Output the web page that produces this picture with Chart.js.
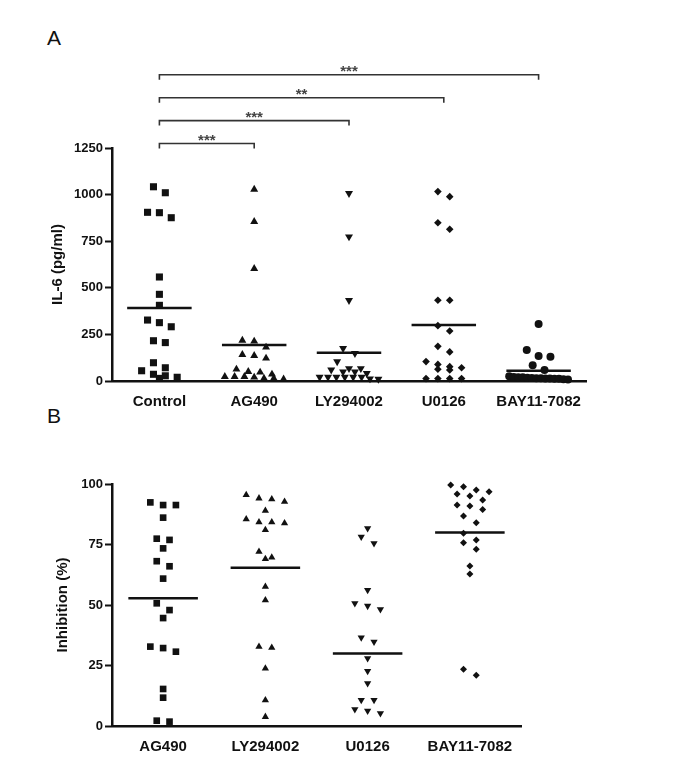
<!DOCTYPE html>
<html>
<head>
<meta charset="utf-8">
<script src="https://cdn.jsdelivr.net/npm/chart.js@4.4.0/dist/chart.umd.min.js"></script>
<style>
  body { margin: 0; background: #fff; }
  #wrap { position: relative; width: 685px; height: 766px; }
  .panel { position: absolute; left: 0; }
  .tag { position: absolute; left: 47px; font: 21px/1 "Liberation Sans", Arial, sans-serif; color: #111; }
</style>
</head>
<body>
<div id="wrap">
  <div class="tag" style="top:27px">A</div>
  <div class="tag" style="top:405px">B</div>
  <canvas id="chartA" class="panel" style="top:0" width="685" height="410"></canvas>
  <canvas id="chartB" class="panel" style="top:410px" width="685" height="356"></canvas>
</div>
<script>
// Panel A: IL-6 (pg/ml) per treatment
const groupsA = ['Control', 'AG490', 'LY294002', 'U0126', 'BAY11-7082'];
const controlA = [1042, 1010, 905, 903, 876, 558, 465, 406, 327, 313, 291, 216, 206, 98, 71, 55, 36, 28, 20, 14];
const ag490A = [1028, 855, 603, 218, 213, 181, 141, 136, 122, 63, 50, 47, 36, 23, 23, 23, 20, 14, 14, 10];
const ly294002A = [1007, 774, 433, 175, 148, 104, 67, 67, 60, 50, 50, 41, 21, 21, 21, 21, 21, 21, 12, 10];
const u0126A = [1016, 989, 849, 814, 433, 433, 297, 268, 186, 156, 104, 89, 77, 71, 63, 59, 13, 13, 13, 13];
const bayA = [306, 166, 134, 130, 84, 59, 25, 22, 20, 20, 18, 16, 15, 15, 14, 13, 12, 12, 10, 8];
const meanA = [392, 193, 152, 300, 55];
const yTicksA = [0, 250, 500, 750, 1000, 1250];
const signif = [[0, 1, '***'], [0, 2, '***'], [0, 3, '**'], [0, 4, '***']];

// Panel B: inhibition (%) per inhibitor
const groupsB = ['AG490', 'LY294002', 'U0126', 'BAY11-7082'];
const ag490B = [92.4, 91.3, 91.3, 86.1, 77.4, 76.9, 73.4, 68.1, 66.0, 60.9, 50.7, 47.9, 44.6, 32.8, 32.2, 30.7, 15.3, 11.7, 2.2, 1.8];
const ly294002B = [95.5, 94.1, 93.7, 92.7, 89.0, 85.5, 84.2, 84.2, 83.8, 81.0, 72.0, 69.7, 69.0, 57.6, 52.0, 32.8, 32.4, 23.8, 10.7, 3.8];
const u0126B = [81.7, 78.2, 75.5, 56.2, 50.7, 49.6, 48.2, 36.5, 34.8, 28.0, 22.7, 17.6, 10.7, 10.7, 6.9, 6.3, 5.2];
const bayB = [99.6, 98.9, 97.5, 96.8, 95.9, 95.0, 93.4, 91.3, 90.9, 89.5, 86.8, 84.0, 79.6, 76.9, 75.7, 73.0, 66.1, 62.8, 23.4, 21.0];
const meanB = [52.8, 65.4, 30, 80];
const yTicksB = [0, 25, 50, 75, 100];

const INK = '#111';
const FONT = '"Liberation Sans", Arial, sans-serif';

// spread points that sit at about the same height side by side (like a dot plot)
function spread(values, gap, step, maxSpan) {
  const order = values.map((v, i) => i).sort((a, b) => values[b] - values[a]);
  const offs = new Array(values.length).fill(0);
  let row = [];
  const flush = () => {
    const n = row.length;
    const s = n > 1 ? Math.min(step, maxSpan / (n - 1)) : 0;
    row.forEach((idx, j) => { offs[idx] = (j - (n - 1) / 2) * s; });
    row = [];
  };
  order.forEach(i => {
    if (row.length && values[i] < values[row[0]] - gap) flush();
    row.push(i);
  });
  flush();
  return offs;
}

function makeDatasets(groups, values, means, shapes, turns, radii, gap) {
  const sets = values.map((vals, g) => {
    const offs = spread(vals, gap, 0.125, 0.62);
    return {
      label: groups[g],
      data: vals.map((v, i) => ({ x: g + offs[i], y: v })),
      pointStyle: shapes[g],
      rotation: turns[g],
      pointRadius: radii[g],
      backgroundColor: INK,
      borderColor: INK,
      borderWidth: 0,
      clip: false
    };
  });
  const line = [];
  means.forEach((m, g) => {
    line.push({ x: g - 0.34, y: m }, { x: g + 0.34, y: m }, { x: g, y: null });
  });
  sets.push({
    label: 'mean',
    data: line,
    showLine: true,
    spanGaps: false,
    pointRadius: 0,
    borderColor: INK,
    borderWidth: 2.5,
    clip: false
  });
  return sets;
}

function axes(groups, yTicks, yMax, title, titlePad, xHeight) {
  return {
    x: {
      type: 'linear', min: -0.5, max: groups.length - 0.5,
      afterBuildTicks: s => { s.ticks = groups.map((_, i) => ({ value: i })); },
      ticks: { callback: v => groups[v], color: INK, font: { family: FONT, size: 15, weight: 'bold' }, padding: 4, autoSkip: false, maxRotation: 0 },
      grid: { display: false },
      border: { display: true, color: INK, width: 2.5 },
      afterFit: s => { s.height = xHeight; }
    },
    y: {
      min: 0, max: yMax,
      afterBuildTicks: s => { s.ticks = yTicks.map(v => ({ value: v })); },
      ticks: { callback: v => String(v), color: INK, font: { family: FONT, size: 13, weight: 'bold' }, padding: 2 },
      grid: { drawOnChartArea: false, drawTicks: true, tickLength: 7, tickWidth: 2, tickColor: INK },
      border: { display: true, color: INK, width: 2.5 },
      title: { display: true, text: title, color: INK, font: { family: FONT, size: 15, weight: 'bold' }, padding: { top: titlePad, bottom: 0 } },
      afterFit: s => { s.width = 112; }
    }
  };
}

const bracketPlugin = {
  id: 'brackets',
  afterDraw(chart) {
    const { ctx, chartArea, scales: { x } } = chart;
    ctx.save();
    ctx.strokeStyle = '#333';
    ctx.fillStyle = '#444';
    ctx.lineWidth = 1.6;
    ctx.font = 'bold 15px ' + FONT;
    ctx.textAlign = 'center';
    ctx.textBaseline = 'alphabetic';
    signif.forEach(([a, b, stars], i) => {
      const y = chartArea.top - 4.5 - i * 22.9;
      const x1 = x.getPixelForValue(a);
      const x2 = x.getPixelForValue(b);
      ctx.beginPath();
      ctx.moveTo(x1, y + 5);
      ctx.lineTo(x1, y);
      ctx.lineTo(x2, y);
      ctx.lineTo(x2, y + 5);
      ctx.stroke();
      ctx.fillText(stars, (x1 + x2) / 2, y + 1);
    });
    ctx.restore();
  }
};

const common = {
  responsive: false,
  animation: false,
  plugins: { legend: { display: false }, tooltip: { enabled: false } }
};

new Chart(document.getElementById('chartA'), {
  type: 'scatter',
  data: {
    datasets: makeDatasets(groupsA, [controlA, ag490A, ly294002A, u0126A, bayA], meanA,
      ['rect', 'triangle', 'triangle', 'rectRot', 'circle'], [0, 0, 180, 0, 0], [5, 4.6, 4.6, 3.8, 4], 37)
  },
  options: {
    ...common,
    layout: { autoPadding: false, padding: { left: 0, top: 148, right: 99, bottom: 0 } },
    scales: axes(groupsA, yTicksA, 1250, 'IL-6 (pg/ml)', 49, 29)
  },
  plugins: [bracketPlugin]
});

new Chart(document.getElementById('chartB'), {
  type: 'scatter',
  data: {
    datasets: makeDatasets(groupsB, [ag490B, ly294002B, u0126B, bayB], meanB,
      ['rect', 'triangle', 'triangle', 'rectRot'], [0, 0, 180, 0], [4.7, 4.2, 4.2, 3.5], 2.9)
  },
  options: {
    ...common,
    layout: { autoPadding: false, padding: { left: 0, top: 74, right: 164, bottom: 0 } },
    scales: axes(groupsB, yTicksB, 100, 'Inhibition (%)', 54, 40)
  }
});
</script>
</body>
</html>
